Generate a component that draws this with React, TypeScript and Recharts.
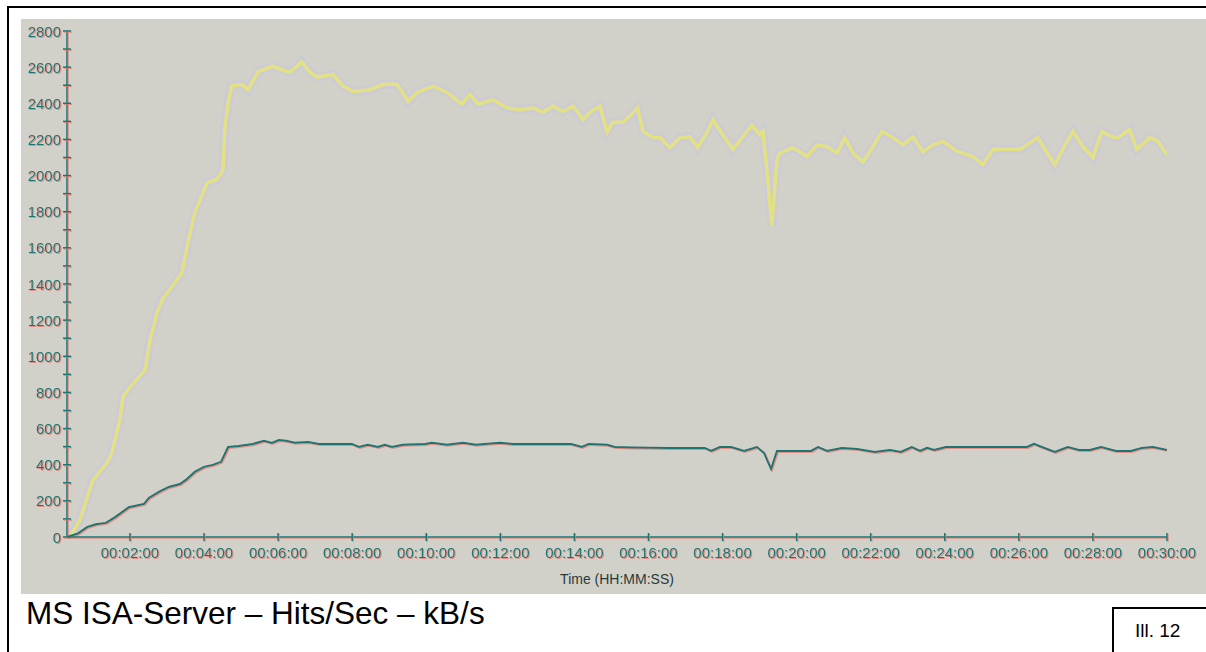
import React from "react";
import { LineChart, Line, XAxis, YAxis, Label } from "recharts";

// time in minutes since start of the test run
const kbTimes = [
    0.38, 0.65, 1.0, 1.38, 1.51, 1.73, 1.81, 2.0, 2.41, 2.54, 2.73, 2.86, 3.27, 3.4, 3.54, 3.75, 3.97, 4.08, 4.35, 4.51,
    4.56, 4.65, 4.75, 5.02, 5.19, 5.46, 5.86, 6.32, 6.64, 6.86, 7.05, 7.48, 7.75, 8.02, 8.48, 8.83, 9.21, 9.51, 9.75, 10.18,
    10.56, 10.96, 11.18, 11.4, 11.8, 12.18, 12.53, 12.88, 13.15, 13.42, 13.69, 13.96, 14.23, 14.42, 14.69, 14.88, 15.04, 15.31, 15.55, 15.71,
    15.85, 16.12, 16.31, 16.58, 16.85, 17.12, 17.33, 17.58, 17.74, 18.01, 18.28, 18.55, 18.79, 19.01, 19.09, 19.22, 19.33, 19.47, 19.55, 19.9,
    20.28, 20.55, 20.82, 21.09, 21.3, 21.52, 21.79, 22.06, 22.3, 22.6, 22.87, 23.14, 23.41, 23.68, 23.95, 24.33, 24.76, 25.03, 25.3, 25.68,
    26.03, 26.51, 26.97, 27.3, 27.46, 27.73, 28.0, 28.24, 28.51, 28.67, 28.99, 29.18, 29.54, 29.75, 30.0,
];
const kbValues = [
    0, 95, 315, 410, 465, 650, 775, 830, 925, 1090, 1240, 1310, 1425, 1460, 1605, 1795, 1905, 1960, 1980, 2030,
    2255, 2405, 2495, 2505, 2475, 2575, 2605, 2570, 2630, 2570, 2545, 2560, 2495, 2465, 2475, 2505, 2505, 2410, 2460, 2495,
    2460, 2395, 2450, 2395, 2420, 2375, 2365, 2375, 2350, 2385, 2355, 2385, 2310, 2350, 2385, 2240, 2295, 2295, 2340, 2375,
    2245, 2210, 2210, 2155, 2210, 2215, 2155, 2240, 2310, 2225, 2145, 2215, 2280, 2225, 2245, 1980, 1720, 2090, 2125, 2155,
    2105, 2170, 2160, 2125, 2210, 2125, 2075, 2160, 2245, 2210, 2170, 2215, 2130, 2170, 2190, 2135, 2105, 2060, 2145, 2145,
    2145, 2210, 2060, 2190, 2245, 2160, 2100, 2245, 2215, 2210, 2255, 2145, 2210, 2190, 2115,
];

const hitsTimes = [
    0.3, 0.6, 0.84, 1.08, 1.35, 1.6, 1.97, 2.38, 2.51, 2.78, 3.05, 3.35, 3.51, 3.75, 4.0, 4.24, 4.46, 4.65, 4.94, 5.32,
    5.62, 5.83, 6.02, 6.21, 6.45, 6.81, 7.1, 7.59, 7.99, 8.18, 8.42, 8.69, 8.88, 9.07, 9.37, 9.97, 10.15, 10.56, 10.99, 11.34,
    11.99, 12.34, 12.91, 13.91, 14.2, 14.39, 14.88, 15.09, 15.55, 16.53, 17.52, 17.69, 17.93, 18.23, 18.58, 18.93, 19.12, 19.31, 19.47, 19.82,
    20.39, 20.58, 20.82, 21.22, 21.63, 22.11, 22.52, 22.81, 23.11, 23.33, 23.52, 23.71, 24.03, 25.22, 26.22, 26.41, 26.62, 26.97, 27.32, 27.62,
    27.92, 28.22, 28.62, 29.03, 29.32, 29.62, 30.0,
];
const hitsValues = [
    0, 20, 55, 70, 78, 110, 165, 183, 216, 250, 277, 293, 316, 360, 388, 399, 416, 498, 504, 515,
    532, 521, 537, 532, 521, 526, 515, 515, 515, 498, 510, 498, 510, 498, 510, 515, 521, 510, 521, 510,
    521, 515, 515, 515, 498, 515, 510, 498, 495, 493, 493, 476, 498, 498, 476, 498, 465, 376, 476, 476,
    476, 498, 476, 493, 487, 471, 482, 471, 498, 476, 493, 482, 498, 498, 498, 515, 498, 471, 498, 482,
    482, 498, 476, 476, 493, 498, 482,
];

const yTicks = [
    0, 100, 200, 300, 400, 500, 600, 700, 800, 900, 1000, 1100, 1200, 1300, 1400,
    1500, 1600, 1700, 1800, 1900, 2000, 2100, 2200, 2300, 2400, 2500, 2600, 2700, 2800,
];
const xTicks = [2, 4, 6, 8, 10, 12, 14, 16, 18, 20, 22, 24, 26, 28, 30];
const xTickLabels = [
    "00:02:00", "00:04:00", "00:06:00", "00:08:00", "00:10:00", "00:12:00", "00:14:00", "00:16:00",
    "00:18:00", "00:20:00", "00:22:00", "00:24:00", "00:26:00", "00:28:00", "00:30:00",
];

const TEAL = "#1b7470";
const FONT = "'Liberation Sans', Arial, sans-serif";

const kbData = kbTimes.map((t, i) => ({ t, v: kbValues[i] }));
const hitsData = hitsTimes.map((t, i) => ({ t, v: hitsValues[i] }));

function YTick({ x, y, payload }: any) {
    const v = payload.value;
    return (
        <g filter="url(#redShadow)">
            <line x1={x - 4} x2={x + 4} y1={y} y2={y} stroke={TEAL} strokeWidth={1.5} />
            {v % 200 === 0 && (
                <text x={x - 6} y={y + 5.5} textAnchor="end" fontSize={15} fill={TEAL} fontFamily={FONT}>
                    {v}
                </text>
            )}
        </g>
    );
}

function XTick({ x, y, payload }: any) {
    const idx = xTicks.indexOf(payload.value);
    return (
        <g filter="url(#redShadow)">
            <line x1={x} x2={x} y1={y - 4} y2={y + 4} stroke={TEAL} strokeWidth={1.5} />
            <text x={x} y={y + 21} textAnchor="middle" fontSize={15} fill={TEAL} fontFamily={FONT}>
                {xTickLabels[idx]}
            </text>
        </g>
    );
}

export default function App() {
    return (
        <div
            style={{
                position: "absolute",
                left: 0,
                top: 0,
                width: 1206,
                height: 652,
                background: "#fff",
                overflow: "hidden",
                fontFamily: FONT,
            }}
        >
            <style>{`.recharts-cartesian-axis-line, .teal-line path { filter: url(#redShadow); }`}</style>
            <svg width={0} height={0} style={{ position: "absolute" }}>
                <defs>
                    <filter id="redShadow" filterUnits="userSpaceOnUse" x={0} y={0} width={1300} height={700}>
                        <feOffset in="SourceAlpha" dx={1} dy={1} result="off" />
                        <feFlood floodColor="#e07a72" floodOpacity={0.75} />
                        <feComposite in2="off" operator="in" result="shadow" />
                        <feMerge>
                            <feMergeNode in="shadow" />
                            <feMergeNode in="SourceGraphic" />
                        </feMerge>
                    </filter>
                </defs>
            </svg>
            <div
                style={{
                    position: "absolute",
                    left: 7,
                    top: 6,
                    width: 1300,
                    height: 700,
                    borderLeft: "2px solid #000",
                    borderTop: "2px solid #000",
                }}
            />
            <div style={{ position: "absolute", left: 21, top: 19, width: 1190, height: 575, background: "#d2d1c9" }} />
            <div style={{ position: "absolute", left: 0, top: 0 }}>
                <LineChart width={1206} height={652} margin={{ top: 31, right: 39, bottom: 65, left: 7 }}>
                    <XAxis
                        dataKey="t"
                        type="number"
                        domain={[0.3, 30]}
                        allowDataOverflow
                        ticks={xTicks}
                        interval={0}
                        height={50}
                        tickSize={0}
                        tickMargin={0}
                        tick={<XTick />}
                        axisLine={{ stroke: TEAL, strokeWidth: 1.5 }}
                    >
                        <Label
                            value="Time (HH:MM:SS)"
                            position="insideBottom"
                            offset={3}
                            fontSize={14}
                            fill="#2a3a38"
                            fontFamily={FONT}
                        />
                    </XAxis>
                    <YAxis
                        type="number"
                        domain={[0, 2800]}
                        ticks={yTicks}
                        interval={0}
                        width={60}
                        tickSize={0}
                        tickMargin={0}
                        tick={<YTick />}
                        axisLine={{ stroke: TEAL, strokeWidth: 1.5 }}
                    />
                    <Line
                        data={kbData}
                        dataKey="v"
                        type="linear"
                        stroke="#cac6dc"
                        strokeOpacity={0.6}
                        strokeWidth={9}
                        dot={false}
                        activeDot={false}
                        isAnimationActive={false}
                    />
                    <Line
                        data={kbData}
                        dataKey="v"
                        type="linear"
                        stroke="#e2e284"
                        strokeWidth={3.5}
                        dot={false}
                        activeDot={false}
                        isAnimationActive={false}
                    />
                    <Line
                        className="teal-line"
                        data={hitsData}
                        dataKey="v"
                        type="linear"
                        stroke={TEAL}
                        strokeWidth={2}
                        dot={false}
                        activeDot={false}
                        isAnimationActive={false}
                    />
                </LineChart>
            </div>
            <div
                style={{
                    position: "absolute",
                    left: 26,
                    top: 598,
                    fontSize: 31.5,
                    lineHeight: "31px",
                    color: "#000",
                    whiteSpace: "nowrap",
                }}
            >
                MS ISA-Server – Hits/Sec – kB/s
            </div>
            <div
                style={{
                    position: "absolute",
                    left: 1112,
                    top: 607,
                    width: 200,
                    height: 100,
                    borderLeft: "2px solid #000",
                    borderTop: "2px solid #000",
                }}
            />
            <div
                style={{
                    position: "absolute",
                    left: 1135,
                    top: 621,
                    fontSize: 19,
                    lineHeight: "20px",
                    color: "#000",
                    whiteSpace: "nowrap",
                }}
            >
                Ill. 12
            </div>
        </div>
    );
}
